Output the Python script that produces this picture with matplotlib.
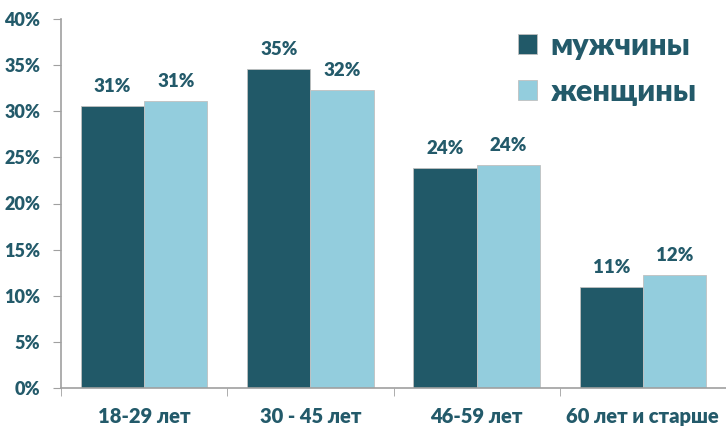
import matplotlib
matplotlib.use("Agg")
import matplotlib.pyplot as plt
import numpy as np

categories = ["18-29 лет", "30 - 45 лет", "46-59 лет", "60 лет и старше"]
men = [30.6, 34.6, 23.8, 10.9]
women = [31.1, 32.3, 24.2, 12.2]
men_labels = ["31%", "35%", "24%", "11%"]
women_labels = ["31%", "32%", "24%", "12%"]
y_ticks = [0, 5, 10, 15, 20, 25, 30, 35, 40]

dark = "#215968"
light = "#93CDDD"
txt = "#235A6A"
plt.rcParams['font.family'] = ['Lato', 'DejaVu Sans']
plt.rcParams['font.weight'] = 'heavy'

fig = plt.figure(figsize=(7.26, 4.28), dpi=100)
ax = fig.add_axes([61/726, 1-388/428, 665/726, 369/428])

x = np.arange(len(categories))
w = 0.38
b1 = ax.bar(x - w/2, men, w, color=dark, edgecolor="#c0c0c0", linewidth=0.6, label="мужчины")
b2 = ax.bar(x + w/2, women, w, color=light, edgecolor="#c0c0c0", linewidth=0.6, label="женщины")

for bars, labs in ((b1, men_labels), (b2, women_labels)):
    for r, lab in zip(bars, labs):
        ax.text(r.get_x() + r.get_width()/2, r.get_height() + 1.2, lab,
                ha="center", va="bottom", fontsize=13.5, fontweight="heavy", color=txt)

ax.set_xlim(-0.5, len(categories) - 0.5)
ax.set_ylim(0, 40)
ax.set_yticks(y_ticks)
ax.set_yticklabels([f"{v}%" for v in y_ticks], fontsize=13, fontweight="heavy", color=txt)
ax.set_xticks(x)
ax.set_xticklabels(categories, fontsize=14.5, fontweight="heavy", color=txt)
ax.tick_params(axis="x", length=0, pad=14)
ax.set_xticks(np.arange(len(categories) + 1) - 0.5, minor=True)
ax.tick_params(axis="x", which="minor", length=6, color="#a0a0a0")
ax.tick_params(axis="y", length=6, color="#a0a0a0", pad=9)

for s in ("top", "right"):
    ax.spines[s].set_visible(False)
for s in ("left", "bottom"):
    ax.spines[s].set_color("#a0a0a0")
    ax.spines[s].set_linewidth(1.2)

leg = ax.legend(loc="upper right", bbox_to_anchor=(0.997, 1.04), frameon=False,
                prop={"family": ["Lato", "DejaVu Sans"], "weight": "heavy", "size": 22},
                handlelength=0.62, handleheight=0.62, handletextpad=0.45, labelspacing=0.6)
for t in leg.get_texts():
    t.set_color(txt)

fig.savefig("out.png", dpi=100)
